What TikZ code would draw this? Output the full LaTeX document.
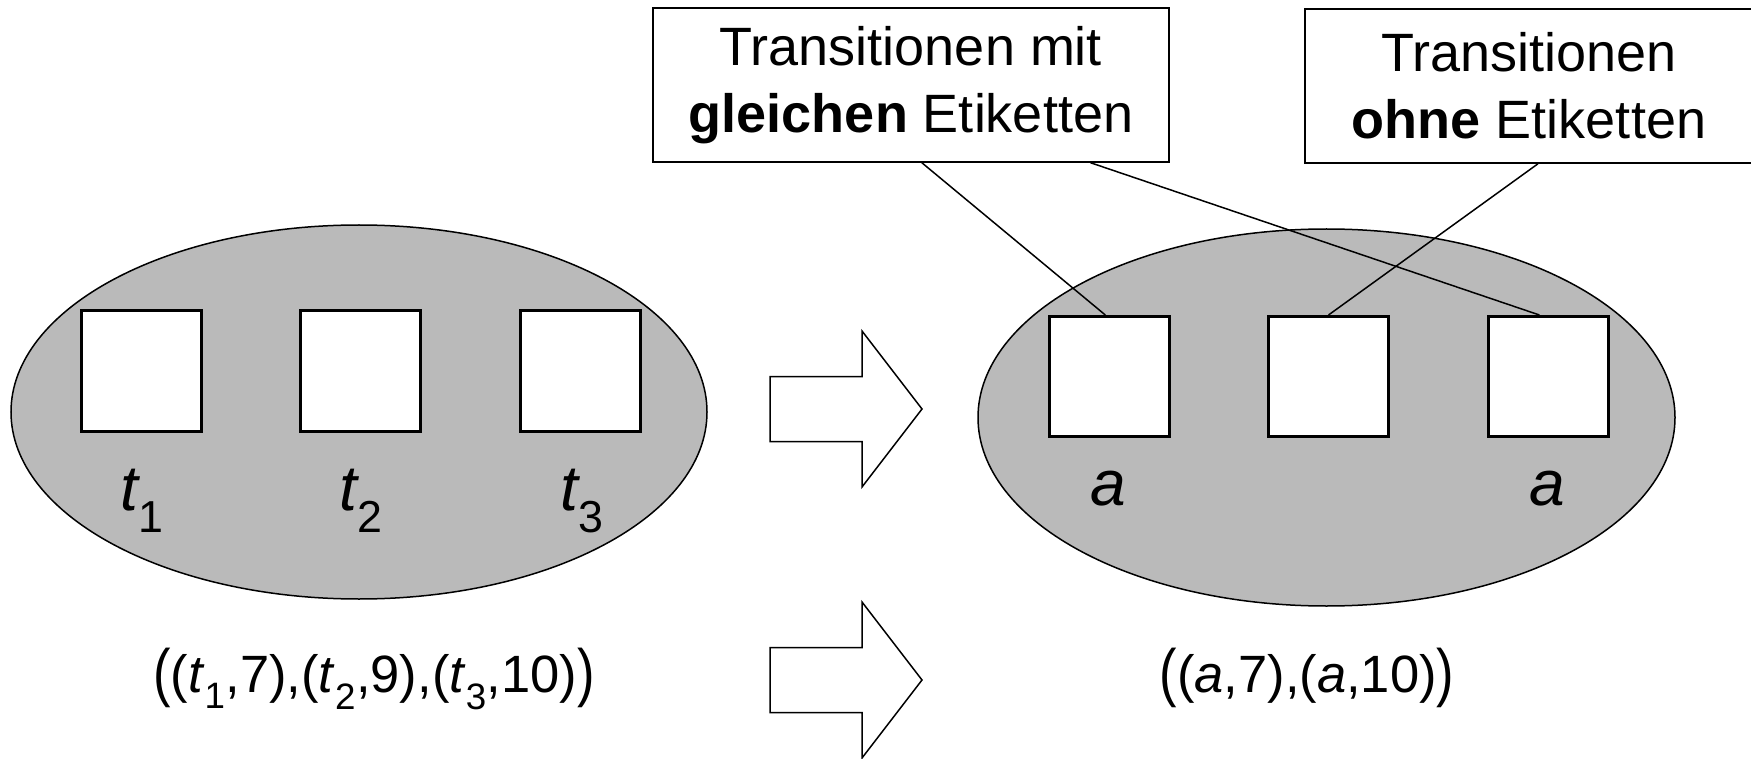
\documentclass[tikz,border=0pt]{standalone}
\usepackage{fontspec}
\setmainfont{Liberation Sans}
\usetikzlibrary{shapes.geometric,calc}

% taller outer parentheses for the firing sequences
\newcommand{\tallparen}[1]{\raisebox{-0.05em}{\scalebox{1}[1.22]{#1}}}

\begin{document}
\begin{tikzpicture}[x=1pt,y=-1pt,
  region/.style={ellipse, draw, line width=1.5pt, fill=black!27, inner sep=0pt},
  trans/.style={rectangle, draw, line width=3pt, fill=white, inner sep=0pt,
                minimum width=120pt, minimum height=120pt},
  note/.style={rectangle, draw, line width=1.5pt, fill=white, align=center,
               font=\fontsize{54}{67}\selectfont, minimum height=154pt},
  tlabel/.style={anchor=base, inner sep=0pt, font=\fontsize{64}{64}\selectfont\itshape},
  seq/.style={anchor=base, inner sep=0pt, font=\fontsize{52.5}{60}\selectfont},
  link/.style={line width=1.5pt},
  hollow/.style={draw, line width=1.5pt, fill=white, line join=miter}
]
\useasboundingbox (0,0) rectangle (1751,759);

% net before relabelling
\node[region, minimum width=696pt, minimum height=374pt] (L) at (359,412) {};
\node[trans] (l1) at (141.5,371) {};
\node[trans] (l2) at (360.5,371) {};
\node[trans] (l3) at (580.5,371) {};
\node[tlabel] (tl1) at (142,510) {t\textsubscript{\upshape 1}};
\node[tlabel] (tl2) at (361,510) {t\textsubscript{\upshape 2}};
\node[tlabel] (tl3) at (582,510) {t\textsubscript{\upshape 3}};

% net after relabelling
\node[region, minimum width=697pt, minimum height=377pt] (R) at (1326.5,417.5) {};
\node[trans] (r1) at (1109,376.5) {};
\node[trans] (r2) at (1328.5,376.5) {};
\node[trans] (r3) at (1548,376.5) {};
\node[tlabel] (ta1) at (1108,505) {a};
\node[tlabel] (ta3) at (1547,505) {a};

% explanatory boxes
\node[note, minimum width=516pt] (same) at (911,85)
  {Transitionen mit\\\textbf{gleichen} Etiketten};
\node[note, minimum width=448pt] (none) at (1529,86)
  {Transitionen\\\textbf{ohne} Etiketten};

\draw[link] ($(same.south west)!0.521!(same.south east)$) -- ($(r1.north west)!0.47!(r1.north east)$);
\draw[link] ($(same.south west)!0.847!(same.south east)$) -- ($(r3.north west)!0.43!(r3.north east)$);
\draw[link] ($(none.south west)!0.52!(none.south east)$) -- (r2.north);

% firing sequences
\node[seq] (sl) at (374,692)
  {\tallparen{(}(\textit{t}\textsubscript{1},7),(\textit{t}\textsubscript{2},9),(\textit{t}\textsubscript{3},10)\tallparen{)}};
\node[seq] (sr) at (1307,692)
  {\tallparen{(}(\textit{a},7),(\textit{a},10)\tallparen{)}};

% block arrows
\foreach \cy in {409,680} {
  \draw[hollow] (770,\cy-32.5) -- (862,\cy-32.5) -- (862,\cy-78) -- (922,\cy)
     -- (862,\cy+78) -- (862,\cy+32.5) -- (770,\cy+32.5) -- cycle;
}
\end{tikzpicture}
\end{document}
